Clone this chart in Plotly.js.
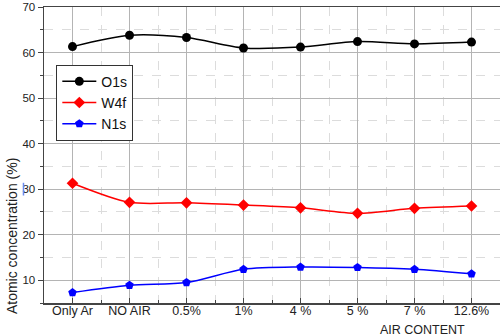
<!DOCTYPE html>
<html>
<head>
<meta charset="utf-8">
<script src="https://cdn.plot.ly/plotly-3.0.1.min.js"></script>
<style>
  html, body { margin: 0; padding: 0; background: #fff; }
  #chart { width: 500px; height: 336px; }
</style>
</head>
<body>
<div id="chart"></div>
<script>
// Air content during deposition and measured atomic concentrations
const categories = ["Only Ar", "NO AIR", "0.5%", "1%", "4 %", "5 %", "7 %", "12.6%"];
const o1s = [61.3, 63.8, 63.3, 61.0, 61.2, 62.4, 61.9, 62.3];
const w4f = [31.3, 27.1, 27.0, 26.5, 25.9, 24.7, 25.8, 26.3];
const n1s = [7.3, 8.9, 9.5, 12.4, 12.9, 12.8, 12.4, 11.4];

const idx = categories.map((_, i) => i);
const between = categories.slice(1).map((_, i) => i + 0.5);

function series(name, values, color, symbol) {
  return {
    x: idx, y: values, name: name, type: 'scatter', mode: 'lines+markers',
    line: { color: color, width: 1.5, shape: 'spline', smoothing: 0.8 },
    marker: { color: color, symbol: symbol, size: 9 }
  };
}

const data = [
  series('O1s', o1s, '#000000', 'circle'),
  series('W4f', w4f, '#ff0000', 'diamond'),
  series('N1s', n1s, '#0000ff', 'pentagon')
];

const layout = {
  width: 500, height: 336,
  margin: { l: 44, r: 0, t: 7, b: 33 },
  paper_bgcolor: '#fff', plot_bgcolor: '#fff',
  font: { family: 'Arial, Liberation Sans, sans-serif', color: '#222' },
  showlegend: true,
  legend: {
    x: 0.027, y: 0.805, xanchor: 'left', yanchor: 'top',
    bordercolor: '#333', borderwidth: 1, bgcolor: '#fff',
    font: { size: 14, color: '#111' },
    itemwidth: 34, tracegroupgap: 0
  },
  xaxis: {
    range: [-0.5, categories.length - 0.5],
    tickmode: 'array', tickvals: idx, ticktext: categories,
    tickfont: { size: 12.5, color: '#222' },
    ticklabelstandoff: -5,
    showgrid: true, gridcolor: '#b4b4b4', gridwidth: 1,
    ticks: 'inside', ticklen: 5, tickcolor: '#444',
    showline: true, linecolor: '#444', linewidth: 1.5, mirror: true,
    zeroline: false,
    minor: { tickmode: 'array', tickvals: between, showgrid: true, gridcolor: '#dcdcdc', griddash: 'dash', ticks: 'inside', ticklen: 3, tickcolor: '#444' },
    title: { text: '' }
  },
  yaxis: {
    range: [5, 70], tickvals: [10, 20, 30, 40, 50, 60, 70],
    tickfont: { size: 11.5, color: '#222' },
    showgrid: true, gridcolor: '#b4b4b4', gridwidth: 1,
    ticks: 'outside', ticklen: 5, tickcolor: '#444',
    showline: true, linecolor: '#444', linewidth: 1.5, mirror: true,
    zeroline: false,
    minor: { tickmode: 'array', tickvals: [5, 15, 25, 35, 45, 55, 65], showgrid: true, gridcolor: '#dcdcdc', griddash: 'dash', ticks: 'outside', ticklen: 3, tickcolor: '#444' },
    title: { text: '' }
  },
  annotations: [{
    text: 'AIR CONTENT', xref: 'paper', yref: 'paper', x: 0.83, y: 0, yshift: -27,
    xanchor: 'center', yanchor: 'middle', showarrow: false,
    font: { size: 12.5, color: '#222' }
  }, {
    text: 'Atomic concentration (%)', xref: 'paper', yref: 'y', x: 0, xshift: -32, y: 19.7,
    textangle: -90, xanchor: 'center', yanchor: 'middle', showarrow: false,
    font: { size: 14, color: '#222' }
  }],
  shapes: [{
    type: 'line', xref: 'paper', yref: 'y', x0: -0.045, x1: -0.045, y0: 28.6, y1: 31.4,
    line: { color: '#6b8cf0', width: 1.5 }
  }]
};

Plotly.newPlot('chart', data, layout, { displayModeBar: false, staticPlot: true });
</script>
</body>
</html>
